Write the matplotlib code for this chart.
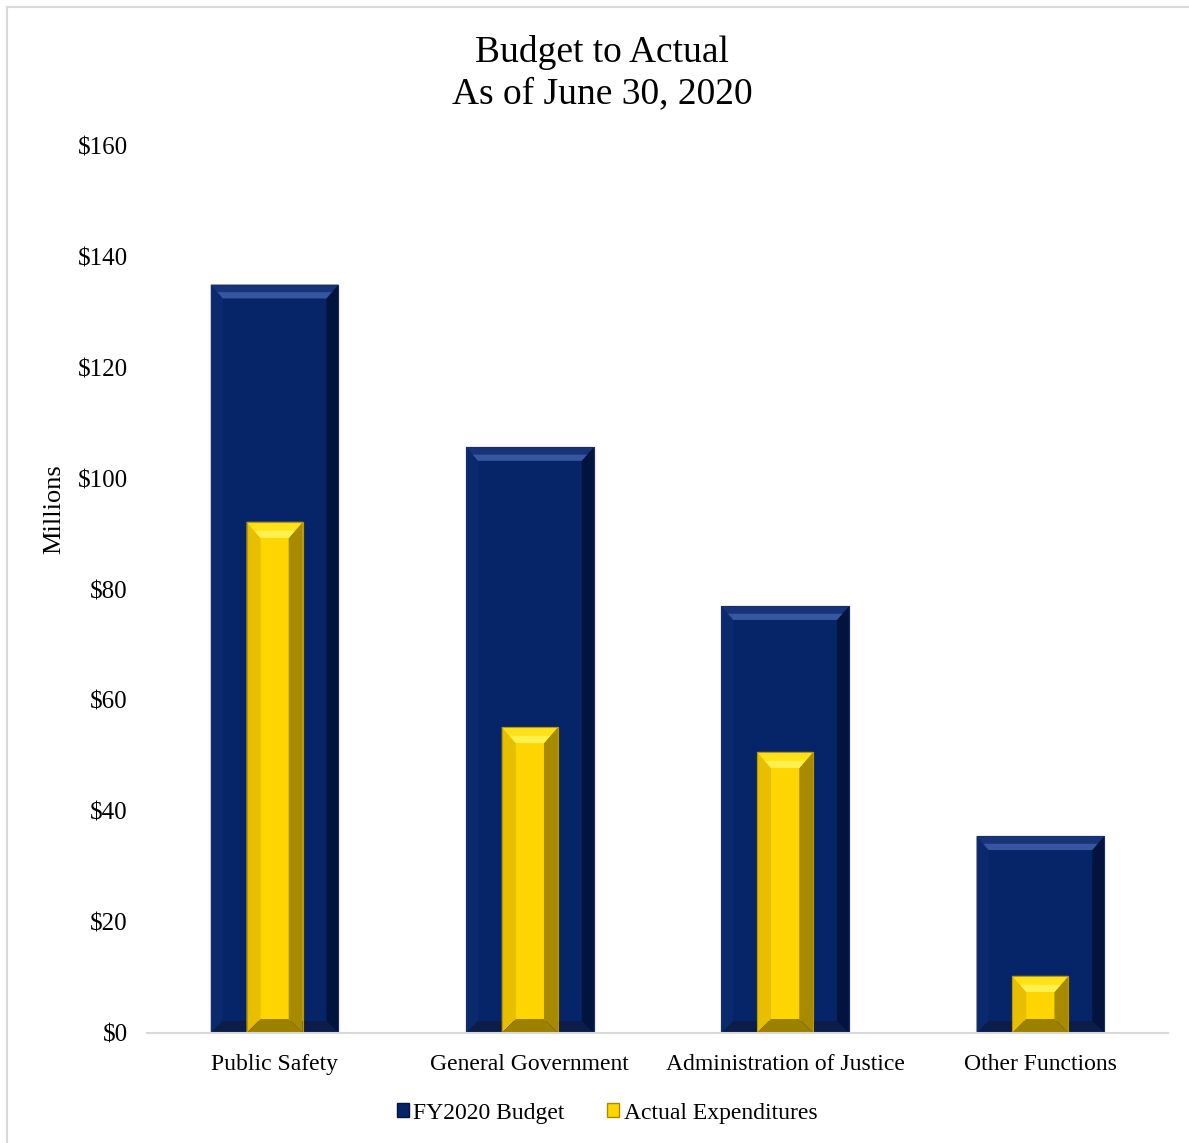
import matplotlib
matplotlib.use('Agg')
import matplotlib.pyplot as plt
from matplotlib.patches import Rectangle, Polygon, Patch
from matplotlib.lines import Line2D

# Datos del gráfico (millones de dólares)
categories = ['Public Safety', 'General Government', 'Administration of Justice', 'Other Functions']
budget = [135.0, 105.7, 77.0, 35.5]
actual = [92.2, 55.2, 50.7, 10.3]
series_names = ['FY2020 Budget', 'Actual Expenditures']
y_ticks = [0, 20, 40, 60, 80, 100, 120, 140, 160]
y_tick_labels = ['$0', '$20', '$40', '$60', '$80', '$100', '$120', '$140', '$160']

plt.rcParams['font.family'] = ['Liberation Serif', 'DejaVu Serif']

W, H = 1189, 1143
fig = plt.figure(figsize=(W / 100, H / 100), dpi=100)
ax_l, ax_r, ax_b, ax_t = 147 / W, 1168 / W, 1 - 1033 / H, 1 - 146 / H
ax = fig.add_axes([ax_l, ax_b, ax_r - ax_l, ax_t - ax_b])
ax.set_xlim(-0.5, len(categories) - 0.5)
ax.set_ylim(0, 160)

# pixeles por unidad de datos, para los biseles
px_x = (ax_r - ax_l) * W / len(categories)
px_y = (ax_t - ax_b) * H / 160

navy = {'face': '#062568', 'top': '#17347a', 'hi': '#3656a0', 'left': '#0a2a6e',
        'right': '#02143e', 'bottom': '#0b1d48', 'edge': '#1a2f60'}
gold = {'face': '#ffd500', 'top': '#ffe11a', 'hi': '#fff04d', 'left': '#e8bf00',
        'right': '#a78a00', 'bottom': '#9c8000', 'edge': '#b89700'}


def bevel_bar(ax, xc, width, height, c, bpx):
    x0, x1 = xc - width / 2, xc + width / 2
    bx = bpx / px_x
    by = min(bpx * 1.15 / px_y, height / 2.2)
    byb = min(bpx / px_y, height / 2.2)
    ax.add_patch(Rectangle((x0, 0), width, height, facecolor=c['face'],
                           edgecolor=c['edge'], linewidth=0.8, zorder=2))
    # lados
    ax.add_patch(Polygon([(x0, 0), (x0 + bx, byb), (x0 + bx, height - by), (x0, height)],
                         closed=True, facecolor=c['left'], edgecolor='none', zorder=3))
    ax.add_patch(Polygon([(x1, 0), (x1 - bx, byb), (x1 - bx, height - by), (x1, height)],
                         closed=True, facecolor=c['right'], edgecolor='none', zorder=3))
    ax.add_patch(Polygon([(x0, 0), (x0 + bx, byb), (x1 - bx, byb), (x1, 0)],
                         closed=True, facecolor=c['bottom'], edgecolor='none', zorder=3))
    # parte superior con brillo
    ax.add_patch(Polygon([(x0, height), (x0 + bx, height - by), (x1 - bx, height - by), (x1, height)],
                         closed=True, facecolor=c['top'], edgecolor='none', zorder=3))
    f = 0.55
    ax.add_patch(Polygon([(x0 + bx * f, height - by * f), (x0 + bx, height - by),
                          (x1 - bx, height - by), (x1 - bx * f, height - by * f)],
                         closed=True, facecolor=c['hi'], edgecolor='none', zorder=3))
    ax.add_patch(Rectangle((x0, 0), width, height, facecolor='none',
                           edgecolor=c['edge'], linewidth=0.8, zorder=4))


x = list(range(len(categories)))
for i in x:
    bevel_bar(ax, i, 0.50, budget[i], navy, 12)
    bevel_bar(ax, i, 0.22, actual[i], gold, 14)

for s in ['top', 'right', 'left']:
    ax.spines[s].set_visible(False)
ax.spines['bottom'].set_color('#d9d9d9')
ax.spines['bottom'].set_linewidth(1.5)
ax.spines['bottom'].set_zorder(5)

ax.set_yticks(y_ticks)
ax.set_yticklabels(y_tick_labels, fontsize=18)
ax.set_xticks(x)
ax.set_xticklabels(categories, fontsize=17)
ax.tick_params(axis='y', length=0, pad=14)
ax.tick_params(axis='x', length=0, pad=15)

fig.text(602 / W, 1 - 73 / H, 'Budget to Actual\nAs of June 30, 2020', ha='center', va='center',
         fontsize=27, linespacing=1.25)
fig.text(54 / W, 1 - 509 / H, 'Millions', rotation=90, ha='center', va='center', fontsize=19)

handles = [Patch(facecolor=navy['face'], edgecolor='#03143a', label=series_names[0]),
           Patch(facecolor=gold['face'], edgecolor=gold['right'], label=series_names[1])]
fig.legend(handles=handles, loc='center', bbox_to_anchor=(607 / W, 1 - 1113 / H), ncol=2,
           frameon=False, fontsize=17, handlelength=0.5, handleheight=0.5, handletextpad=0.2,
           columnspacing=1.8)

# borde del gráfico
fig.add_artist(Line2D([7 / W, 7 / W], [0, 1 - 7 / H], color='#d9d9d9', linewidth=1.5))
fig.add_artist(Line2D([7 / W, 1], [1 - 7 / H, 1 - 7 / H], color='#d9d9d9', linewidth=1.5))

fig.savefig('out.png', dpi=100)
